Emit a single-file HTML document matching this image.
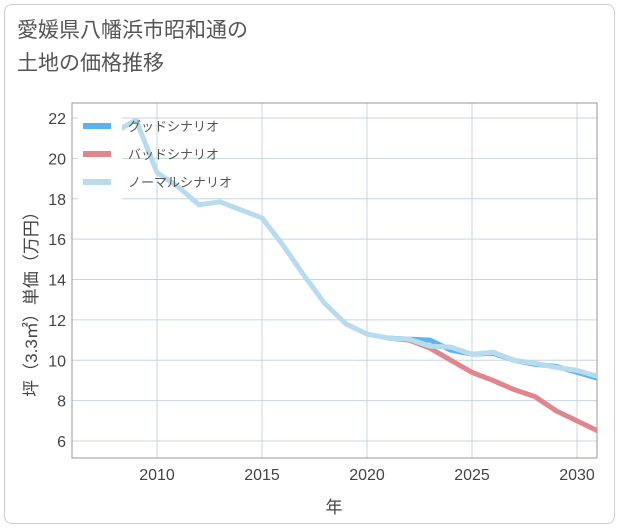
<!DOCTYPE html>
<html><head><meta charset="utf-8"><style>
body{margin:0;background:#fff;}
#wrap{position:relative;width:621px;height:530px;overflow:hidden;font-family:"Liberation Sans","Noto Sans CJK JP",sans-serif;}
#frame{position:absolute;left:4px;top:4px;width:611px;height:520px;border:1px solid #ccc;border-radius:8px;box-sizing:border-box;}
#title{position:absolute;left:17px;top:14px;font-size:21px;line-height:33px;color:#555;}
</style></head><body>
<div id="wrap">
<div id="frame"></div>
<div id="title">愛媛県八幡浜市昭和通の<br>土地の価格推移</div>
<svg id="chart" width="621" height="530" style="position:absolute;left:0;top:0"></svg>
</div>
<script>
const years=[2008,2009,2010,2011,2012,2013,2014,2015,2016,2017,2018,2019,2020,2021,2022,2023,2024,2025,2026,2027,2028,2029,2030,2031];
const normal=[21.3,21.9,19.3,18.6,17.7,17.85,17.45,17.05,15.7,14.2,12.8,11.8,11.3,11.1,11.05,10.7,10.65,10.3,10.4,10.0,9.85,9.65,9.5,9.2];
const goodYears=[2021,2022,2023,2024,2025,2026,2027,2028,2029,2030,2031];
const good=[11.1,11.05,11.0,10.5,10.3,10.35,10.0,9.8,9.7,9.4,9.1];
const bad=[11.1,11.0,10.6,10.0,9.4,9.0,8.55,8.2,7.5,7.0,6.5];
const yTicks=[6,8,10,12,14,16,18,20,22];
const xTicks=[2010,2015,2020,2025,2030];
const L=72,R=597,T=103,B=458;
const X=y=>157+(y-2010)*21;
const Y=v=>118+(22-v)*20.19;
const svg=document.getElementById('chart');
const NS='http://www.w3.org/2000/svg';
function mk(tag,attrs,parent){const e=document.createElementNS(NS,tag);for(const k in attrs)e.setAttribute(k,attrs[k]);(parent||svg).appendChild(e);return e;}
for(const t of yTicks){
 const l=mk('line',{x1:L,x2:R,y1:Y(t),y2:Y(t),stroke:'#c8d4e0','stroke-width':1});
 
 
 const tx=mk('text',{x:L-6,y:Y(t)+6,'text-anchor':'end','font-size':16,fill:'#444'});
 tx.textContent=t;
 
 
}
for(const t of xTicks){
 const l=mk('line',{x1:X(t),x2:X(t),y1:T,y2:B,stroke:'#c8d4e0','stroke-width':1});
 
 
 const tx=mk('text',{x:X(t),y:B+22,'text-anchor':'middle','font-size':16,fill:'#444'});
 tx.textContent=t;
 
 
}
const ax=mk('rect',{x:L,y:T,width:R-L,height:B-T,fill:'none',stroke:'#999','stroke-width':1});


const cp=mk('clipPath',{id:'cp'});mk('rect',{x:L,y:T,width:R-L,height:B-T},cp);
function series(xs,vs,color,name){
 const p=mk('polyline',{points:xs.map((x,i)=>X(x)+','+Y(vs[i])).join(' '),fill:'none',stroke:color,'stroke-width':5,'stroke-linejoin':'round','clip-path':'url(#cp)'});
 
 
}
series(goodYears,bad,'#e0868e','bad-scenario-line');
series(goodYears,good,'#5ab4f0','good-scenario-line');
series(years,normal,'#b8dcee','normal-scenario-line');
const lg=mk('rect',{x:78,y:110,width:44,height:90,fill:'#fff'});


const leg=[['グッドシナリオ','#5ab4f0'],['バッドシナリオ','#e0868e'],['ノーマルシナリオ','#b8dcee']];
leg.forEach((d,i)=>{
 const y=126+i*28;
 const g=mk('g',{});
 
 
 mk('line',{x1:83,x2:111,y1:y,y2:y,stroke:d[1],'stroke-width':6},g);
 const t=mk('text',{x:128,y:y+5,'font-size':13,fill:'#555'},g);t.textContent=d[0];
});
const xl=mk('text',{x:334,y:513,'text-anchor':'middle','font-size':17,fill:'#444'});
xl.textContent='年';


const yl=mk('text',{x:0,y:0,'text-anchor':'middle','font-size':17,fill:'#444',transform:'translate(37,300) rotate(-90)'});
yl.textContent='坪（3.3㎡）単価（万円）';


</script>
</body></html>
